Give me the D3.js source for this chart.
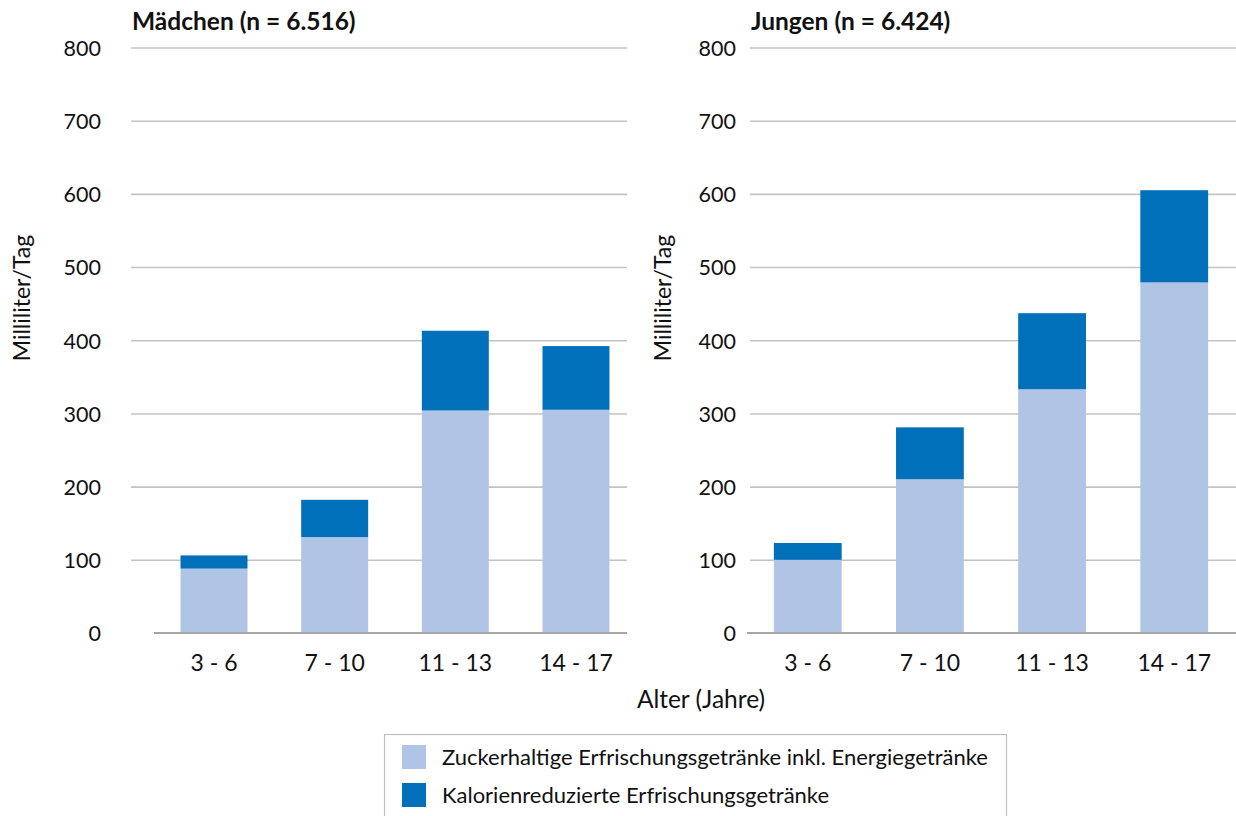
<!DOCTYPE html>
<html>
<head>
<meta charset="utf-8">
<script src="https://cdn.jsdelivr.net/npm/d3@7"></script>
<style>
  html, body { margin: 0; padding: 0; background: #fff; }
  svg { display: block; font-family: Lato, "Open Sans", sans-serif; }
  svg text { font-family: Lato, "Open Sans", sans-serif; }
</style>
</head>
<body>
<svg id="chart" width="1236" height="816"></svg>
<script>
const categories = ["3 - 6", "7 - 10", "11 - 13", "14 - 17"];
const girlsSugar = [88, 131, 304, 305];
const girlsDiet = [18, 51, 109, 87];
const boysSugar = [100, 210, 333, 479];
const boysDiet = [23, 71, 104, 126];
const yTicks = [0, 100, 200, 300, 400, 500, 600, 700, 800];
const seriesNames = ["Zuckerhaltige Erfrischungsgetränke inkl. Energiegetränke", "Kalorienreduzierte Erfrischungsgetränke"];
const panelTitles = ["Mädchen (n = 6.516)", "Jungen (n = 6.424)"];
const yTitle = "Milliliter/Tag";
const xTitle = "Alter (Jahre)";

const colors = ["#B0C4E6", "#0070BA"];
const FONT = "Lato, 'Open Sans', sans-serif";
const svg = d3.select("#chart");

const y = d3.scaleLinear().domain([0, 800]).range([633, 47.5]);

const panels = [
  { title: panelTitles[0], sugar: girlsSugar, diet: girlsDiet,
    gridX: [131, 627], base: [154, 627], band: [154, 636], tickRight: 101, yTitleX: 22 },
  { title: panelTitles[1], sugar: boysSugar, diet: boysDiet,
    gridX: [750, 1236], base: [747, 1236], band: [747, 1235], tickRight: 736, yTitleX: 663 }
];

panels.forEach(p => {
  const g = svg.append("g");
  const x = d3.scaleBand().domain(categories).range(p.band).paddingInner(0.445).paddingOuter(0.22);

  const axis = d3.axisLeft(y).tickValues(yTicks)
    .tickSize(-(p.gridX[1] - p.gridX[0]))
    .tickPadding(p.gridX[0] - p.tickRight)
    .tickFormat(d3.format("d"));
  const ag = g.append("g").attr("transform", `translate(${p.gridX[0]},0)`).call(axis)
    .attr("font-family", FONT).attr("font-size", 21.5);
  ag.select(".domain").remove();
  ag.selectAll(".tick line").attr("stroke", "#c3c3c3").attr("stroke-width", 1.6);
  ag.selectAll(".tick").filter(d => d === 0).select("line").remove();
  ag.selectAll(".tick text").attr("fill", "#111").attr("dy", "0.36em");

  const rows = categories.map((c, i) => ({ cat: c, sugar: p.sugar[i], diet: p.diet[i] }));
  const stacked = d3.stack().keys(["sugar", "diet"])(rows);
  stacked.forEach((layer, li) => {
    g.append("g").selectAll("rect").data(layer).join("rect")
      .attr("x", d => x(d.data.cat))
      .attr("width", x.bandwidth())
      .attr("y", d => y(d[1]))
      .attr("height", d => y(d[0]) - y(d[1]))
      .attr("fill", colors[li]);
  });

  g.append("line").attr("x1", p.base[0]).attr("x2", p.base[1])
    .attr("y1", y(0)).attr("y2", y(0))
    .attr("stroke", "#a6a6a6").attr("stroke-width", 2);

  g.append("g").selectAll("text").data(categories).join("text")
    .attr("x", d => x(d) + x.bandwidth() / 2)
    .attr("y", 671)
    .attr("text-anchor", "middle")
    .attr("fill", "#111")
    .style("font-size", "23px")
    .text(d => d);

  g.append("text").attr("x", p.gridX[0] + 1).attr("y", 30)
    .attr("fill", "#111").style("font-size", "24.5px").style("font-weight", "bold")
    .text(p.title);

  g.append("text")
    .attr("transform", `translate(${p.yTitleX + 8},298) rotate(-90)`)
    .attr("text-anchor", "middle")
    .attr("fill", "#111").style("font-size", "23px")
    .text(yTitle);
});

svg.append("text").attr("x", 701).attr("y", 708).attr("text-anchor", "middle")
  .attr("fill", "#111").style("font-size", "24.5px").text(xTitle);

const lg = svg.append("g");
lg.append("rect").attr("x", 384.5).attr("y", 734.5).attr("width", 622).attr("height", 90)
  .attr("fill", "#fff").attr("stroke", "#bfbfbf").attr("stroke-width", 1.2);
seriesNames.forEach((name, i) => {
  const yy = 745 + i * 38;
  lg.append("rect").attr("x", 402).attr("y", yy).attr("width", 24).attr("height", 24)
    .attr("fill", colors[i]);
  lg.append("text").attr("x", 442).attr("y", yy + 20)
    .attr("fill", "#111").style("font-size", "22px").text(name);
});
</script>
</body>
</html>
